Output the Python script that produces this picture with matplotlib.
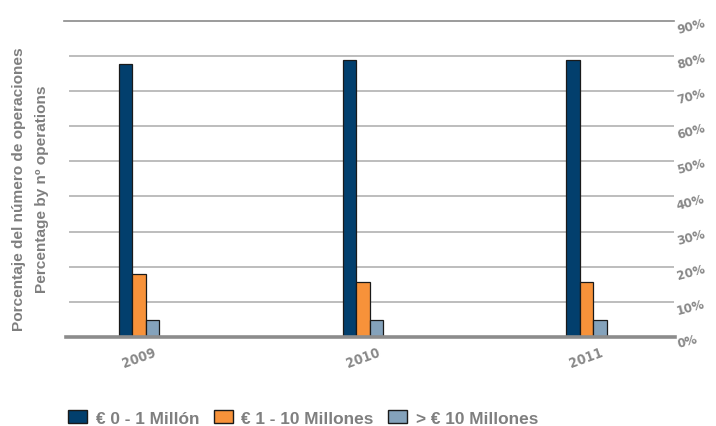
import matplotlib
matplotlib.use("Agg")
import matplotlib.pyplot as plt
from matplotlib.patches import Patch

years = ["2009", "2010", "2011"]
series_names = ["€ 0 - 1 Millón", "€ 1 - 10 Millones", "> € 10 Millones"]
small = [77.9, 78.8, 78.8]
medium = [17.9, 15.7, 15.7]
large = [4.7, 4.7, 4.7]
ytick_vals = [0, 10, 20, 30, 40, 50, 60, 70, 80, 90]
ytick_labels = ["0%", "10%", "20%", "30%", "40%", "50%", "60%", "70%", "80%", "90%"]
ylabel_es = "Porcentaje del número de operaciones"
ylabel_en = "Percentage by nº operations"

colors = ["#023f6d", "#f7923a", "#84a2bb"]
edge = "#1a1a1a"
gray = "#7f7f7f"
W, H = 716, 427
fig = plt.figure(figsize=(W / 100, H / 100), dpi=100)

ax_l, ax_r = 64, 674
ax_t, ax_b = 22.2, 337.7
ax = fig.add_axes([ax_l / W, 1 - ax_b / H, (ax_r - ax_l) / W, (ax_b - ax_t) / H])

px_per_group = 223.65
c0 = 139.2
ax.set_xlim((ax_l - c0) / px_per_group, (ax_r - c0) / px_per_group)
ax.set_ylim(0, 90)

# gridlines
gx0 = (70 - ax_l) / (ax_r - ax_l)
for v in ytick_vals[1:-1]:
    ax.axhline(v, xmin=gx0, xmax=1, color="#bdbdbd", lw=1.4, zorder=0)
ax.axhline(90, xmin=0, xmax=1, color="#8a8a8a", lw=1.2, zorder=0, clip_on=False)
ax.axhline(0, xmin=(65.7 - ax_l) / (ax_r - ax_l), xmax=1.002, color="#8c8c8c", lw=2.6, zorder=3, clip_on=False)

w = 13.5 / px_per_group
x = list(range(len(years)))
for i, (vals, col) in enumerate(zip([small, medium, large], colors)):
    ax.bar([xi + (i - 1) * w for xi in x], vals, width=w, color=col,
           edgecolor=edge, linewidth=0.9, zorder=2)

for s in ax.spines.values():
    s.set_visible(False)

ax.yaxis.tick_right()
ax.set_yticks(ytick_vals)
ax.set_yticklabels(ytick_labels, rotation=15, color="#888888",
                   fontsize=9.5, fontstretch="condensed", fontweight="bold", family="DejaVu Sans")
ax.tick_params(axis="y", length=0, pad=1)

ax.set_xticks(x)
ax.set_xticklabels(years, rotation=20, color="#888888", fontsize=10,
                   fontstretch="condensed", fontweight="bold", family="DejaVu Sans")
ax.tick_params(axis="x", length=0, pad=6)

lab_kw = dict(rotation=90, ha="center", va="center", color=gray,
              fontsize=11.1, fontweight="bold", family="Liberation Sans")
fig.text(19 / W, 1 - 189.5 / H, ylabel_es, **lab_kw)
fig.text(42 / W, 1 - 189.5 / H, ylabel_en, **lab_kw)

handles = [Patch(facecolor=c, edgecolor=edge, linewidth=1) for c in colors]
leg = fig.legend(handles, series_names, loc="center left",
                 bbox_to_anchor=(68 / W, 1 - 419 / H), ncol=3, frameon=False,
                 prop={"family": "Liberation Sans", "weight": "bold", "size": 12.4},
                 handlelength=1.1, handleheight=0.76, handletextpad=0.5,
                 columnspacing=0.85, borderaxespad=0, borderpad=0)
for t in leg.get_texts():
    t.set_color(gray)

fig.savefig("out.png", dpi=100)
